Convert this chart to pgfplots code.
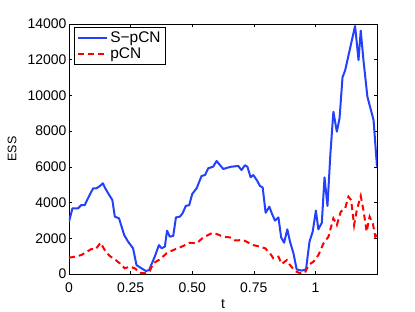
\documentclass[border=0pt]{standalone}
\usepackage{fontspec}
\setmainfont{Liberation Sans}
\usepackage{pgfplots}
\pgfplotsset{compat=1.18}
\definecolor{mblue}{RGB}{35,65,250}
\begin{document}
\begin{tikzpicture}[font=\fontsize{14}{16}\selectfont]
\begin{axis}[
  scale only axis, width=308bp, height=250bp,
  xmin=0, xmax=1.25, ymin=0, ymax=14000,
  xtick={0,0.25,0.5,0.75,1}, xticklabels={0,0.25,0.50,0.75,1},
  ytick={0,2000,4000,6000,8000,10000,12000,14000},
  yticklabels={0,2000,4000,6000,8000,10000,12000,14000},
  scaled y ticks=false,
  /pgf/number format/assume math mode=true,
  tick align=inside, major tick length=3bp,
  tick style={black, line width=0.5bp},
  axis line style={black, line width=0.8bp},
  xticklabel style={anchor=base, yshift=-18bp},
  yticklabel style={xshift=1bp},
  xlabel={t}, ylabel={ESS},
  xlabel style={at={(axis description cs:0.5,0)}, anchor=base, yshift=-34bp},
  ylabel style={at={(axis description cs:-0.185,0.5)}, anchor=center, rotate=0, font=\fontsize{12.5}{14}\selectfont},
  legend style={at={(rel axis cs:0,1)}, anchor=north west, xshift=5.5bp, yshift=-3bp,
    draw=black, line width=0.8bp, font=\fontsize{15.5}{17}\selectfont,
    inner xsep=2.5bp, inner ysep=2bp, row sep=0.5bp},
  legend cell align=left,
  legend image code/.code={\draw[#1] (0bp,0bp) -- (29bp,0bp);},
]
\coordinate (O) at (rel axis cs:0,0);
\addplot[mblue, line width=2bp, line join=round] coordinates {
(0,2930)(0.014,3680)(0.037,3680)(0.05,3860)(0.064,3860)(0.077,4240)(0.098,4800)(0.111,4800)(0.122,4890)(0.138,5080)(0.145,4850)(0.159,4520)(0.176,4140)(0.186,3210)(0.203,3120)(0.224,2180)(0.24,1810)(0.26,1440)(0.274,500)(0.294,320)(0.312,170)(0.325,220)(0.348,970)(0.365,1620)(0.376,1440)(0.389,1530)(0.398,2430)(0.409,2090)(0.423,2130)(0.434,3170)(0.45,3210)(0.461,3400)(0.474,3810)(0.488,3860)(0.5,4480)(0.518,4800)(0.538,5490)(0.552,5540)(0.565,5920)(0.585,6010)(0.599,6330)(0.626,5880)(0.645,5960)(0.66,6010)(0.687,6050)(0.70,5820)(0.714,6090)(0.724,6010)(0.737,5420)(0.748,5540)(0.762,5260)(0.775,4930)(0.786,4850)(0.798,3430)(0.813,3770)(0.823,3400)(0.836,2990)(0.85,3170)(0.861,2050)(0.873,1750)(0.886,2500)(0.897,1810)(0.911,1160)(0.924,260)(0.945,190)(0.962,260)(0.976,1810)(0.989,2370)(1.002,3550)(1.012,2500)(1.026,2870)(1.037,5410)(1.049,3810)(1.061,6760)(1.073,9090)(1.087,7970)(1.098,8720)(1.11,11010)(1.121,11420)(1.161,13890)(1.175,11980)(1.184,13630)(1.195,11980)(1.211,9930)(1.236,8620)(1.25,6010)
};
\addlegendentry{S−pCN}
\addplot[red, line width=2bp, dash pattern=on 6bp off 4bp] coordinates {
(0,910)(0.023,970)(0.05,1060)(0.091,1400)(0.108,1380)(0.128,1750)(0.145,1340)(0.165,1010)(0.186,820)(0.206,600)(0.226,320)(0.247,410)(0.267,320)(0.287,70)(0.308,40)(0.328,170)(0.342,600)(0.369,820)(0.396,1160)(0.423,1340)(0.457,1530)(0.49,1750)(0.518,1720)(0.545,2050)(0.579,2280)(0.599,2240)(0.626,2090)(0.653,2050)(0.674,1880)(0.707,1900)(0.748,1620)(0.775,1530)(0.796,1440)(0.816,1160)(0.829,880)(0.85,970)(0.863,560)(0.884,780)(0.897,500)(0.917,170)(0.938,40)(0.958,75)(0.972,500)(0.992,690)(1.012,1060)(1.033,1720)(1.053,2090)(1.073,3120)(1.087,2740)(1.103,3490)(1.121,3680)(1.134,4330)(1.145,4140)(1.157,2740)(1.168,3580)(1.184,4370)(1.195,3580)(1.208,2370)(1.22,3210)(1.233,2840)(1.243,2090)(1.25,2200)
};
\addlegendentry{pCN}
\end{axis}
\pgfresetboundingbox
\path[use as bounding box] ([xshift=-69bp,yshift=-38bp]O) rectangle ++(415bp,312bp);
\end{tikzpicture}
\end{document}
